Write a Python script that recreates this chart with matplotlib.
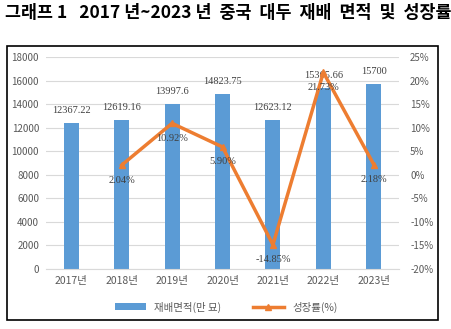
import matplotlib.pyplot as plt
from matplotlib.patches import Rectangle
import numpy as np

plt.rcParams['font.family'] = ['Noto Sans CJK KR', 'DejaVu Sans']

years = ['2017', '2018', '2019', '2020', '2021', '2022', '2023']
area = [12367.22, 12619.16, 13997.6, 14823.75, 12623.12, 15365.66, 15700]
area_labels = ['12367.22', '12619.16', '13997.6', '14823.75', '12623.12', '15365.66', '15700']
growth = [2.04, 10.92, 5.90, -14.85, 21.73, 2.18]
growth_labels = ['2.04%', '10.92%', '5.90%', '-14.85%', '21.73%', '2.18%']

blue = '#5B9BD5'
orange = '#ED7D31'
grey = '#595959'

fig = plt.figure(figsize=(4.52, 3.29), dpi=100)
fig.text(0.012, 0.962, '그래프 1   2017 년~2023 년  중국  대두  재배  면적  및  성장률',
         fontsize=12.5, fontweight='bold', va='center', ha='left')
fig.patches.append(Rectangle((7 / 452, 1 - 320 / 329), 431 / 452, 274 / 329,
                             transform=fig.transFigure, fill=False, ec='black', lw=1.2))

ax = fig.add_axes([46 / 452, 1 - 269 / 329, 353 / 452, 212 / 329])
x = np.arange(len(years))
ax.bar(x, area, width=0.3, color=blue, zorder=2, label='재배면적(만 묘)')
ax.set_ylim(0, 18000)
ax.set_yticks(range(0, 18001, 2000))
ax.set_xlim(-0.5, len(years) - 0.5)
ax.set_xticks(x)
ax.set_xticklabels([y + '년' for y in years])
ax.grid(axis='y', color='#D9D9D9', lw=0.8, zorder=0)
for s in ax.spines.values():
    s.set_visible(False)
ax.spines['bottom'].set_visible(True)
ax.spines['bottom'].set_color('#D9D9D9')
ax.tick_params(length=0, labelsize=7.5, colors=grey, pad=5)
ax.tick_params(axis='y', labelsize=7)
for xi, v, t in zip(x, area, area_labels):
    ax.text(xi, v + 700, t, ha='center', va='bottom', fontsize=7.5, color='#404040',
            family=['Liberation Serif', 'DejaVu Serif'])

ax2 = ax.twinx()
ax2.plot(x[1:], growth, color=orange, lw=2.5, marker='^', ms=5, zorder=3, label='성장률(%)')
ax2.set_ylim(-20, 25)
ax2.set_yticks(range(-20, 26, 5))
ax2.set_yticklabels([f'{v}%' for v in range(-20, 26, 5)])
for s in ax2.spines.values():
    s.set_visible(False)
ax2.tick_params(length=0, labelsize=7, colors=grey, pad=8)
for xi, v, t in zip(x[1:], growth, growth_labels):
    ax2.text(xi, v - 2.2, t, ha='center', va='top', fontsize=7.5, color='#404040',
             family=['Liberation Serif', 'DejaVu Serif'])

h1, l1 = ax.get_legend_handles_labels()
h2, l2 = ax2.get_legend_handles_labels()
fig.legend(h1 + h2, l1 + l2, loc='center', bbox_to_anchor=(0.5, 1 - 307 / 329), ncol=2,
           frameon=False, fontsize=7.5, labelcolor=grey, handlelength=3, columnspacing=3)

fig.savefig('out.png', dpi=100)
